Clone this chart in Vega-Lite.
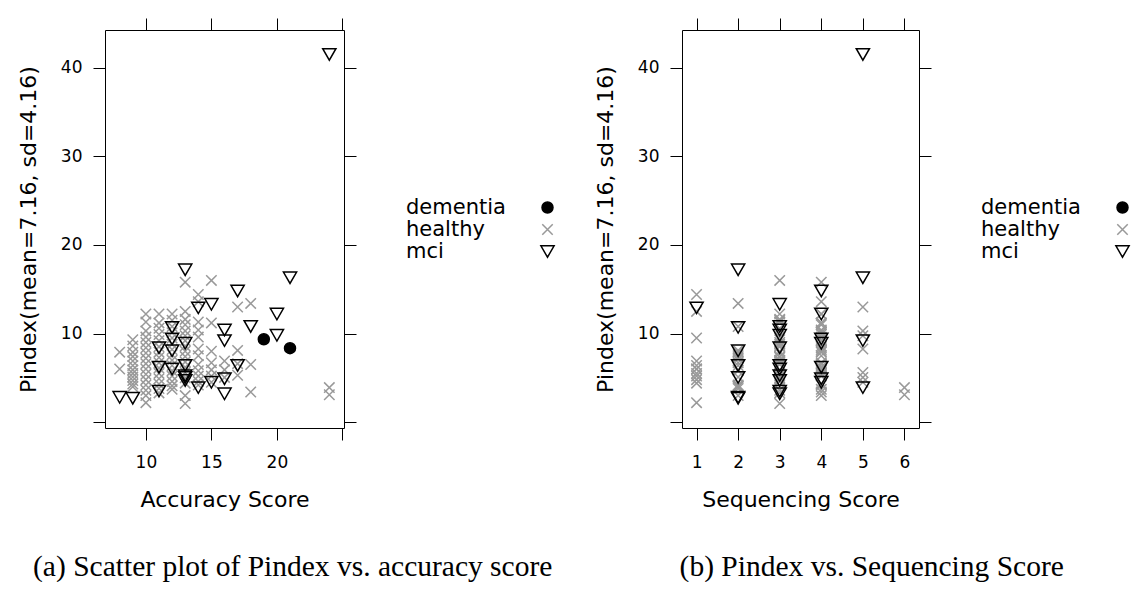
{
  "$schema": "https://vega.github.io/schema/vega-lite/v6.json",
  "background": "white",
  "padding": {"left": 16, "top": 17, "right": 0, "bottom": 0},
  "spacing": 34,
  "data": {"values": [
    {"accuracy": 8, "sequencing": 2, "pindex": 7.9, "group": "healthy"},
    {"accuracy": 8, "sequencing": 1, "pindex": 6.0, "group": "healthy"},
    {"accuracy": 9, "sequencing": 3, "pindex": 9.3, "group": "healthy"},
    {"accuracy": 9, "sequencing": 4, "pindex": 8.6, "group": "healthy"},
    {"accuracy": 9, "sequencing": 2, "pindex": 7.9, "group": "healthy"},
    {"accuracy": 9, "sequencing": 3, "pindex": 7.4, "group": "healthy"},
    {"accuracy": 9, "sequencing": 1, "pindex": 6.9, "group": "healthy"},
    {"accuracy": 9, "sequencing": 2, "pindex": 6.4, "group": "healthy"},
    {"accuracy": 9, "sequencing": 3, "pindex": 5.9, "group": "healthy"},
    {"accuracy": 9, "sequencing": 4, "pindex": 5.5, "group": "healthy"},
    {"accuracy": 9, "sequencing": 2, "pindex": 5.1, "group": "healthy"},
    {"accuracy": 9, "sequencing": 3, "pindex": 4.7, "group": "healthy"},
    {"accuracy": 9, "sequencing": 4, "pindex": 4.3, "group": "healthy"},
    {"accuracy": 9, "sequencing": 2, "pindex": 4.0, "group": "healthy"},
    {"accuracy": 10, "sequencing": 4, "pindex": 12.2, "group": "healthy"},
    {"accuracy": 10, "sequencing": 3, "pindex": 11.3, "group": "healthy"},
    {"accuracy": 10, "sequencing": 4, "pindex": 10.3, "group": "healthy"},
    {"accuracy": 10, "sequencing": 4, "pindex": 9.6, "group": "healthy"},
    {"accuracy": 10, "sequencing": 3, "pindex": 9.0, "group": "healthy"},
    {"accuracy": 10, "sequencing": 4, "pindex": 8.4, "group": "healthy"},
    {"accuracy": 10, "sequencing": 3, "pindex": 7.8, "group": "healthy"},
    {"accuracy": 10, "sequencing": 2, "pindex": 7.2, "group": "healthy"},
    {"accuracy": 10, "sequencing": 4, "pindex": 6.6, "group": "healthy"},
    {"accuracy": 10, "sequencing": 1, "pindex": 6.0, "group": "healthy"},
    {"accuracy": 10, "sequencing": 3, "pindex": 5.4, "group": "healthy"},
    {"accuracy": 10, "sequencing": 1, "pindex": 4.8, "group": "healthy"},
    {"accuracy": 10, "sequencing": 4, "pindex": 4.2, "group": "healthy"},
    {"accuracy": 10, "sequencing": 3, "pindex": 3.6, "group": "healthy"},
    {"accuracy": 10, "sequencing": 2, "pindex": 3.0, "group": "healthy"},
    {"accuracy": 10, "sequencing": 1, "pindex": 2.2, "group": "healthy"},
    {"accuracy": 11, "sequencing": 3, "pindex": 12.2, "group": "healthy"},
    {"accuracy": 11, "sequencing": 4, "pindex": 11.2, "group": "healthy"},
    {"accuracy": 11, "sequencing": 3, "pindex": 10.6, "group": "healthy"},
    {"accuracy": 11, "sequencing": 4, "pindex": 9.9, "group": "healthy"},
    {"accuracy": 11, "sequencing": 4, "pindex": 9.2, "group": "healthy"},
    {"accuracy": 11, "sequencing": 3, "pindex": 8.5, "group": "healthy"},
    {"accuracy": 11, "sequencing": 4, "pindex": 7.9, "group": "healthy"},
    {"accuracy": 11, "sequencing": 3, "pindex": 7.3, "group": "healthy"},
    {"accuracy": 11, "sequencing": 2, "pindex": 6.7, "group": "healthy"},
    {"accuracy": 11, "sequencing": 4, "pindex": 6.1, "group": "healthy"},
    {"accuracy": 11, "sequencing": 1, "pindex": 5.5, "group": "healthy"},
    {"accuracy": 11, "sequencing": 3, "pindex": 4.9, "group": "healthy"},
    {"accuracy": 11, "sequencing": 4, "pindex": 4.3, "group": "healthy"},
    {"accuracy": 11, "sequencing": 2, "pindex": 3.8, "group": "healthy"},
    {"accuracy": 11, "sequencing": 3, "pindex": 3.3, "group": "healthy"},
    {"accuracy": 12, "sequencing": 4, "pindex": 12.2, "group": "healthy"},
    {"accuracy": 12, "sequencing": 3, "pindex": 11.5, "group": "healthy"},
    {"accuracy": 12, "sequencing": 2, "pindex": 10.8, "group": "healthy"},
    {"accuracy": 12, "sequencing": 4, "pindex": 10.1, "group": "healthy"},
    {"accuracy": 12, "sequencing": 1, "pindex": 9.5, "group": "healthy"},
    {"accuracy": 12, "sequencing": 3, "pindex": 8.8, "group": "healthy"},
    {"accuracy": 12, "sequencing": 4, "pindex": 8.2, "group": "healthy"},
    {"accuracy": 12, "sequencing": 2, "pindex": 7.6, "group": "healthy"},
    {"accuracy": 12, "sequencing": 3, "pindex": 7.0, "group": "healthy"},
    {"accuracy": 12, "sequencing": 1, "pindex": 6.4, "group": "healthy"},
    {"accuracy": 12, "sequencing": 4, "pindex": 5.8, "group": "healthy"},
    {"accuracy": 12, "sequencing": 1, "pindex": 5.2, "group": "healthy"},
    {"accuracy": 12, "sequencing": 3, "pindex": 4.6, "group": "healthy"},
    {"accuracy": 12, "sequencing": 2, "pindex": 4.1, "group": "healthy"},
    {"accuracy": 12, "sequencing": 4, "pindex": 3.7, "group": "healthy"},
    {"accuracy": 13, "sequencing": 4, "pindex": 15.8, "group": "healthy"},
    {"accuracy": 13, "sequencing": 1, "pindex": 12.5, "group": "healthy"},
    {"accuracy": 13, "sequencing": 3, "pindex": 11.6, "group": "healthy"},
    {"accuracy": 13, "sequencing": 4, "pindex": 11.0, "group": "healthy"},
    {"accuracy": 13, "sequencing": 5, "pindex": 10.3, "group": "healthy"},
    {"accuracy": 13, "sequencing": 5, "pindex": 9.75, "group": "healthy"},
    {"accuracy": 13, "sequencing": 4, "pindex": 9.2, "group": "healthy"},
    {"accuracy": 13, "sequencing": 3, "pindex": 8.6, "group": "healthy"},
    {"accuracy": 13, "sequencing": 4, "pindex": 8.0, "group": "healthy"},
    {"accuracy": 13, "sequencing": 2, "pindex": 7.4, "group": "healthy"},
    {"accuracy": 13, "sequencing": 3, "pindex": 6.8, "group": "healthy"},
    {"accuracy": 13, "sequencing": 4, "pindex": 6.2, "group": "healthy"},
    {"accuracy": 13, "sequencing": 5, "pindex": 5.6, "group": "healthy"},
    {"accuracy": 13, "sequencing": 3, "pindex": 5.0, "group": "healthy"},
    {"accuracy": 13, "sequencing": 1, "pindex": 4.4, "group": "healthy"},
    {"accuracy": 13, "sequencing": 4, "pindex": 3.0, "group": "healthy"},
    {"accuracy": 13, "sequencing": 3, "pindex": 2.1, "group": "healthy"},
    {"accuracy": 14, "sequencing": 1, "pindex": 14.4, "group": "healthy"},
    {"accuracy": 14, "sequencing": 4, "pindex": 13.6, "group": "healthy"},
    {"accuracy": 14, "sequencing": 3, "pindex": 11.3, "group": "healthy"},
    {"accuracy": 14, "sequencing": 4, "pindex": 10.4, "group": "healthy"},
    {"accuracy": 14, "sequencing": 3, "pindex": 9.6, "group": "healthy"},
    {"accuracy": 14, "sequencing": 5, "pindex": 8.25, "group": "healthy"},
    {"accuracy": 14, "sequencing": 4, "pindex": 7.5, "group": "healthy"},
    {"accuracy": 14, "sequencing": 3, "pindex": 6.5, "group": "healthy"},
    {"accuracy": 14, "sequencing": 2, "pindex": 5.8, "group": "healthy"},
    {"accuracy": 14, "sequencing": 4, "pindex": 5.2, "group": "healthy"},
    {"accuracy": 14, "sequencing": 3, "pindex": 4.6, "group": "healthy"},
    {"accuracy": 14, "sequencing": 2, "pindex": 4.2, "group": "healthy"},
    {"accuracy": 15, "sequencing": 3, "pindex": 16.0, "group": "healthy"},
    {"accuracy": 15, "sequencing": 4, "pindex": 11.2, "group": "healthy"},
    {"accuracy": 15, "sequencing": 3, "pindex": 8.0, "group": "healthy"},
    {"accuracy": 15, "sequencing": 4, "pindex": 6.7, "group": "healthy"},
    {"accuracy": 15, "sequencing": 2, "pindex": 5.9, "group": "healthy"},
    {"accuracy": 15, "sequencing": 3, "pindex": 5.2, "group": "healthy"},
    {"accuracy": 15, "sequencing": 5, "pindex": 4.5, "group": "healthy"},
    {"accuracy": 16, "sequencing": 3, "pindex": 6.9, "group": "healthy"},
    {"accuracy": 16, "sequencing": 4, "pindex": 5.9, "group": "healthy"},
    {"accuracy": 16, "sequencing": 5, "pindex": 5.05, "group": "healthy"},
    {"accuracy": 17, "sequencing": 5, "pindex": 13.0, "group": "healthy"},
    {"accuracy": 17, "sequencing": 2, "pindex": 8.1, "group": "healthy"},
    {"accuracy": 17, "sequencing": 3, "pindex": 6.6, "group": "healthy"},
    {"accuracy": 17, "sequencing": 4, "pindex": 5.3, "group": "healthy"},
    {"accuracy": 18, "sequencing": 2, "pindex": 13.4, "group": "healthy"},
    {"accuracy": 18, "sequencing": 4, "pindex": 6.5, "group": "healthy"},
    {"accuracy": 18, "sequencing": 4, "pindex": 3.4, "group": "healthy"},
    {"accuracy": 24, "sequencing": 6, "pindex": 3.9, "group": "healthy"},
    {"accuracy": 24, "sequencing": 6, "pindex": 3.1, "group": "healthy"},
    {"accuracy": 24, "sequencing": 5, "pindex": 41.5, "group": "mci"},
    {"accuracy": 13, "sequencing": 2, "pindex": 17.2, "group": "mci"},
    {"accuracy": 21, "sequencing": 5, "pindex": 16.3, "group": "mci"},
    {"accuracy": 17, "sequencing": 4, "pindex": 14.8, "group": "mci"},
    {"accuracy": 15, "sequencing": 3, "pindex": 13.3, "group": "mci"},
    {"accuracy": 14, "sequencing": 1, "pindex": 12.9, "group": "mci"},
    {"accuracy": 20, "sequencing": 4, "pindex": 12.2, "group": "mci"},
    {"accuracy": 18, "sequencing": 3, "pindex": 10.8, "group": "mci"},
    {"accuracy": 12, "sequencing": 2, "pindex": 10.7, "group": "mci"},
    {"accuracy": 16, "sequencing": 3, "pindex": 10.4, "group": "mci"},
    {"accuracy": 20, "sequencing": 3, "pindex": 9.8, "group": "mci"},
    {"accuracy": 12, "sequencing": 4, "pindex": 9.4, "group": "mci"},
    {"accuracy": 16, "sequencing": 5, "pindex": 9.2, "group": "mci"},
    {"accuracy": 13, "sequencing": 4, "pindex": 8.9, "group": "mci"},
    {"accuracy": 11, "sequencing": 3, "pindex": 8.4, "group": "mci"},
    {"accuracy": 12, "sequencing": 2, "pindex": 8.05, "group": "mci"},
    {"accuracy": 13, "sequencing": 2, "pindex": 6.4, "group": "mci"},
    {"accuracy": 17, "sequencing": 3, "pindex": 6.4, "group": "mci"},
    {"accuracy": 11, "sequencing": 4, "pindex": 6.2, "group": "mci"},
    {"accuracy": 12, "sequencing": 3, "pindex": 6.0, "group": "mci"},
    {"accuracy": 13, "sequencing": 3, "pindex": 5.25, "group": "mci"},
    {"accuracy": 13, "sequencing": 2, "pindex": 5.05, "group": "mci"},
    {"accuracy": 16, "sequencing": 4, "pindex": 4.9, "group": "mci"},
    {"accuracy": 13, "sequencing": 3, "pindex": 4.7, "group": "mci"},
    {"accuracy": 15, "sequencing": 4, "pindex": 4.5, "group": "mci"},
    {"accuracy": 14, "sequencing": 5, "pindex": 3.9, "group": "mci"},
    {"accuracy": 11, "sequencing": 3, "pindex": 3.5, "group": "mci"},
    {"accuracy": 16, "sequencing": 3, "pindex": 3.2, "group": "mci"},
    {"accuracy": 8, "sequencing": 2, "pindex": 2.8, "group": "mci"},
    {"accuracy": 9, "sequencing": 2, "pindex": 2.7, "group": "mci"},
    {"accuracy": 19, "sequencing": null, "pindex": 9.36, "group": "dementia"},
    {"accuracy": 21, "sequencing": null, "pindex": 8.35, "group": "dementia"}
  ]},
  "config": {
    "view": {"stroke": "black", "strokeWidth": 1},
    "font": "DejaVu Sans",
    "axis": {"domain": false, "grid": false, "ticks": true, "tickColor": "black", "tickSize": 12, "tickWidth": 1, "labelFont": "DejaVu Sans", "labelFontSize": 17, "labelColor": "black", "titleFont": "DejaVu Sans", "titleFontSize": 22, "titleFontWeight": "normal", "titleColor": "black"},
    "axisX": {"labelPadding": 14, "titlePadding": 19},
    "axisY": {"labelPadding": 11, "titlePadding": 20},
    "legend": {"symbolSize": 121, "symbolStrokeWidth": 1.5, "labelFont": "DejaVu Sans", "labelFontSize": 21, "labelColor": "black", "rowPadding": 0, "labelOffset": -152, "symbolOffset": 0, "offset": 180, "padding": 0, "layout": {"right": {"anchor": "middle"}}},
    "title": {"font": "Liberation Serif", "fontSize": 29.5, "fontWeight": "normal", "color": "black", "orient": "bottom", "anchor": "middle", "frame": "bounds", "offset": 43}
  },
  "resolve": {"scale": {"shape": "independent", "stroke": "independent", "fill": "independent"}},
  "hconcat": [
    {
      "width": 239,
      "height": 398,
      "title": {"text": "(a) Scatter plot of Pindex vs. accuracy score", "dx": 5},
      "layer": [
        {
          "mark": {"type": "point", "size": 121, "strokeWidth": 1.5, "opacity": 1},
          "encoding": {
            "x": {"field": "accuracy", "type": "quantitative", "scale": {"domain": [6.88, 25.12], "nice": false, "zero": false}, "axis": {"orient": "bottom", "values": [10, 15, 20, 25], "labelExpr": "datum.value == 25 ? '' : datum.label", "title": "Accuracy Score"}},
            "y": {"field": "pindex", "type": "quantitative", "scale": {"domain": [-0.66, 44.26], "nice": false, "zero": false}, "axis": {"orient": "left", "values": [0, 10, 20, 30, 40], "labelExpr": "datum.value == 0 ? '' : datum.label", "title": "Pindex(mean=7.16, sd=4.16)"}},
            "shape": {"field": "group", "type": "nominal", "scale": {"domain": ["dementia", "healthy", "mci"], "range": ["circle", "M-0.95,-0.95L0.95,0.95M-0.95,0.95L0.95,-0.95", "M-1.2,-1.04L1.2,-1.04L0,1.04Z"]}, "legend": {"title": null}},
            "stroke": {"field": "group", "type": "nominal", "scale": {"domain": ["dementia", "healthy", "mci"], "range": ["#000000", "#999999", "#000000"]}, "legend": {"title": null}},
            "fill": {"field": "group", "type": "nominal", "scale": {"domain": ["dementia", "healthy", "mci"], "range": ["#000000", "transparent", "transparent"]}, "legend": {"title": null}}
          }
        },
        {
          "mark": {"type": "point", "opacity": 0},
          "encoding": {
            "x": {"field": "accuracy", "type": "quantitative", "scale": {"domain": [6.88, 25.12], "nice": false, "zero": false}, "axis": {"orient": "top", "values": [10, 15, 20, 25], "labels": false, "title": null}},
            "y": {"field": "pindex", "type": "quantitative", "scale": {"domain": [-0.66, 44.26], "nice": false, "zero": false}, "axis": {"orient": "right", "values": [0, 10, 20, 30, 40], "labels": false, "title": null}}
          }
        }
      ],
      "resolve": {"scale": {"x": "independent", "y": "independent"}, "axis": {"x": "independent", "y": "independent"}}
    },
    {
      "width": 237,
      "height": 398,
      "title": {"text": "(b) Pindex vs. Sequencing Score", "dx": 8},
      "transform": [{"filter": "isValid(datum.sequencing)"}],
      "layer": [
        {
          "mark": {"type": "point", "size": 121, "strokeWidth": 1.5, "opacity": 1},
          "encoding": {
            "x": {"field": "sequencing", "type": "quantitative", "scale": {"domain": [0.65, 6.35], "nice": false, "zero": false}, "axis": {"orient": "bottom", "values": [1, 2, 3, 4, 5, 6], "title": "Sequencing Score"}},
            "y": {"field": "pindex", "type": "quantitative", "scale": {"domain": [-0.66, 44.26], "nice": false, "zero": false}, "axis": {"orient": "left", "values": [0, 10, 20, 30, 40], "labelExpr": "datum.value == 0 ? '' : datum.label", "title": "Pindex(mean=7.16, sd=4.16)"}},
            "shape": {"field": "group", "type": "nominal", "scale": {"domain": ["dementia", "healthy", "mci"], "range": ["circle", "M-0.95,-0.95L0.95,0.95M-0.95,0.95L0.95,-0.95", "M-1.2,-1.04L1.2,-1.04L0,1.04Z"]}, "legend": {"title": null}},
            "stroke": {"field": "group", "type": "nominal", "scale": {"domain": ["dementia", "healthy", "mci"], "range": ["#000000", "#999999", "#000000"]}, "legend": {"title": null}},
            "fill": {"field": "group", "type": "nominal", "scale": {"domain": ["dementia", "healthy", "mci"], "range": ["#000000", "transparent", "transparent"]}, "legend": {"title": null}}
          }
        },
        {
          "mark": {"type": "point", "opacity": 0},
          "encoding": {
            "x": {"field": "sequencing", "type": "quantitative", "scale": {"domain": [0.65, 6.35], "nice": false, "zero": false}, "axis": {"orient": "top", "values": [1, 2, 3, 4, 5, 6], "labels": false, "title": null}},
            "y": {"field": "pindex", "type": "quantitative", "scale": {"domain": [-0.66, 44.26], "nice": false, "zero": false}, "axis": {"orient": "right", "values": [0, 10, 20, 30, 40], "labels": false, "title": null}}
          }
        }
      ],
      "resolve": {"scale": {"x": "independent", "y": "independent"}, "axis": {"x": "independent", "y": "independent"}}
    }
  ]
}
